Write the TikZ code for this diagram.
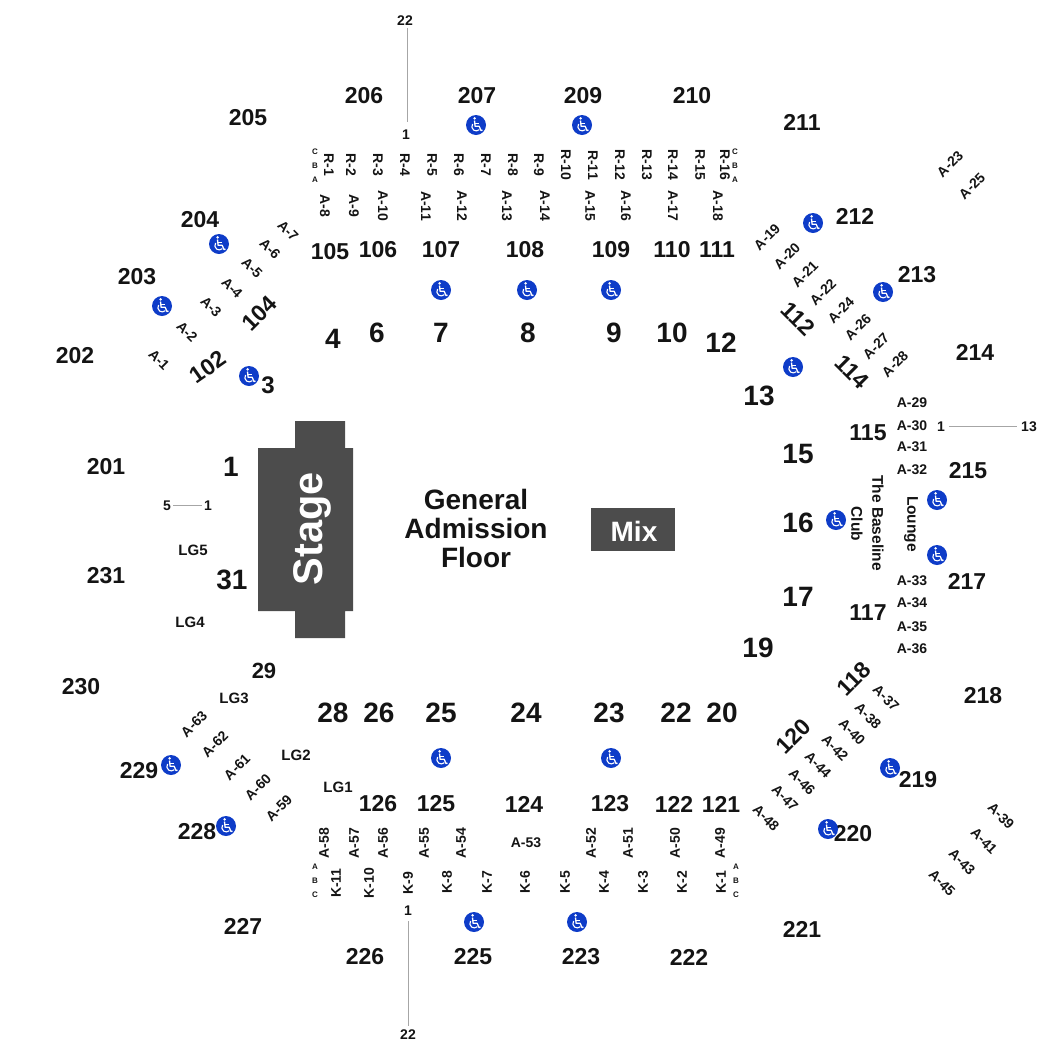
\documentclass[tikz,border=0pt]{standalone}
\usepackage{fontspec}
\setmainfont{Liberation Sans}
\definecolor{wcblue}{HTML}{0E3CC8}
\tikzset{
  base/.style={inner sep=0pt,font=\bfseries\fontsize{#1}{#1}\selectfont,text=black!92,anchor=center},
  sect/.style={base=23},
  bignum/.style={base=28},
  seat/.style={base=14},
  tiny/.style={base=8},
  lg/.style={base=15},
  conn/.style={draw=black!35,line width=0.8pt},
  dark/.style={fill=black!70,draw=none},
  wcdisc/.style={circle,fill=wcblue,minimum size=20pt,inner sep=0pt},
  pics/wc/.style={code={
    \fill[white] (-1.4,-6.6) circle (1.4);
    \draw[white,line width=1.3pt,line join=round] (-1.5,-4.5) -- (-0.9,1.3) -- (3.2,1.3) -- (5,5.6) -- (6.4,5);
    \draw[white,line width=1.1pt] (-1.2,-1.9) -- (3,-1.9);
    \draw[white,line width=1.1pt] (-3.4,-1) arc[start angle=215,end angle=45,radius=4.4];
  }}
}
\begin{document}
\begin{tikzpicture}[x=1pt,y=-1pt]
\useasboundingbox (0,0) rectangle (1050,1050);
% stage
\path[dark] (295,421) -- (345,421) -- (345,448) -- (353,448) -- (353,611) -- (345,611) -- (345,638) -- (295,638) -- (295,611) -- (258,611) -- (258,448) -- (295,448) -- cycle;
\node[base=41.5,text=white,rotate=90] (stage) at (312,528.5) {Stage};
\node[dark,minimum width=84pt,minimum height=43pt,inner sep=0pt] (mixbox) at (633,529.5) {};
\node[base=28,text=white] (mix) at (634,531) {Mix};
\node[base=28,align=center] (floor) at (476,528.5) {General\\[1pt]Admission\\[1pt]Floor};
% sections
\foreach \x/\y/\t in {364/96/206,477/96/207,583/96/209,692/96/210,248/118/205,802/122/211,200/220/204,855/216/212,917/275/213,137/277/203,75/356/202,975/352/214,106/467/201,968/471/215,106/576/231,967/581/217,81/687/230,983/696/218,139/771/229,918/780/219,197/832/228,853/834/220,243/926/227,802/929/221,365/957/226,473/957/225,581/957/223,689/957/222,330/252/105,378/250/106,441/250/107,525/250/108,611/250/109,672/250/110,717/250/111,868/433/115,868/613/117,378/804/126,436/804/125,524/804/124,610/804/123,674/804/122,721/804/121}
  \node[sect] (s\t) at (\x,\y) {\t};
\foreach \x/\y/\r/\t in {259/313/45/104,208/367/35/102,798/319/-45/112,852/372/-45/114,854/679/45/118,793/736/45/120}
  \node[sect,rotate=\r] (s\t) at (\x,\y) {\t};
% floor numbers
\foreach \x/\y/\t in {333/339/4,377/333/6,441/333/7,528/333/8,614/333/9,672/333/10,721/343/12,759/396/13,798/454/15,798/523/16,798/597/17,758/648/19,231/467/1,232/580/31,333/713/28,379/713/26,441/713/25,526/713/24,609/713/23,676/713/22,722/713/20}
  \node[bignum] (n\t) at (\x,\y) {\t};
\node[base=24] (n3) at (268,385) {3};
\node[base=22] (n29) at (264,671) {29};
% seats vertical
\foreach \x/\y/\t in {325/206/A-8,354/206/A-9,383/206/A-10,426/206/A-11,462/206/A-12,507/206/A-13,545/206/A-14,590/206/A-15,626/206/A-16,673/206/A-17,718/206/A-18,329/165/R-1,351/165/R-2,378/165/R-3,405/165/R-4,432/165/R-5,459/165/R-6,486/165/R-7,513/165/R-8,539/165/R-9,566/165/R-10,593/165/R-11,620/165/R-12,647/165/R-13,673/165/R-14,700/165/R-15,725/165/R-16}
  \node[seat,rotate=-90] (\t) at (\x,\y) {\t};
\foreach \x/\y/\t in {324/843/A-58,354/843/A-57,383/843/A-56,424/843/A-55,461/843/A-54,591/843/A-52,628/843/A-51,675/843/A-50,720/843/A-49,336/883/K-11,369/883/K-10,408/883/K-9,447/882/K-8,487/882/K-7,525/882/K-6,565/882/K-5,604/882/K-4,643/882/K-3,682/882/K-2,721/882/K-1}
  \node[seat,rotate=90] (\t) at (\x,\y) {\t};
% seats diagonal
\foreach \x/\y/\t in {288/231/A-7,270/249/A-6,252/268/A-5,232/288/A-4,211/307/A-3,187/332/A-2,159/360/A-1,886/698/A-37,868/716/A-38,852/732/A-40,835/748/A-42,818/765/A-44,802/782/A-46,785/798/A-47,766/818/A-48,1001/816/A-39,984/841/A-41,962/862/A-43,942/883/A-45}
  \node[seat,rotate=-45] (\t) at (\x,\y) {\t};
\foreach \x/\y/\t in {767/237/A-19,787/256/A-20,805/274/A-21,823/292/A-22,841/310/A-24,858/327/A-26,876/346/A-27,895/364/A-28,950/164/A-23,972/186/A-25,194/724/A-63,215/744/A-62,237/767/A-61,258/787/A-60,279/808/A-59}
  \node[seat,rotate=45] (\t) at (\x,\y) {\t};
% seats horizontal
\foreach \x/\y/\t in {912/403/A-29,912/426/A-30,912/447/A-31,912/470/A-32,912/581/A-33,912/603/A-34,912/627/A-35,912/649/A-36,526/843/A-53}
  \node[seat] (\t) at (\x,\y) {\t};
% row letters
\foreach \x/\y/\t/\n in {315/152/C/lc,315/166/B/lb,315/180/A/la,735/152/C/rc,735/166/B/rb,735/180/A/ra,315/867/A/bla,315/881/B/blb,315/895/C/blc,736/867/A/bra,736/881/B/brb,736/895/C/brc}
  \node[tiny] (\n) at (\x,\y) {\t};
% club labels
\node[base=15.5,rotate=-90] (baseline) at (878,523) {The Baseline};
\node[base=15.5,rotate=-90] (club) at (857,524) {Club};
\node[base=15.5,rotate=-90] (lounge) at (911,524) {Lounge};
% LG
\foreach \x/\y/\t in {193/550/LG5,190/622/LG4,234/698/LG3,296/755/LG2,338/787/LG1}
  \node[lg] (\t) at (\x,\y) {\t};
% row number connectors
\node[seat] (top22) at (405,21) {22};
\node[seat] (top1) at (406,135) {1};
\draw[conn] ([xshift=2pt,yshift=-2pt]top22.south) -- ([xshift=1pt,yshift=8pt]top1.north);
\node[seat] (bot1) at (408,911) {1};
\node[seat] (bot22) at (408,1035) {22};
\draw[conn] ([yshift=-5pt]bot1.south) -- ([yshift=4pt]bot22.north);
\node[seat] (r1) at (941,427) {1};
\node[seat] (r13) at (1029,427) {13};
\draw[conn] ([xshift=4pt,yshift=0.5pt]r1.east) -- ([xshift=-4pt,yshift=0.5pt]r13.west);
\node[seat] (l5) at (167,506) {5};
\node[seat] (l1) at (208,506) {1};
\draw[conn] ([xshift=2pt,yshift=1pt]l5.east) -- ([xshift=-2pt,yshift=1pt]l1.west);
% wheelchair icons
\foreach \x/\y [count=\i] in {476/125,582/125,813/223,883/292,219/244,162/306,249/376,441/290,527/290,611/290,793/367,937/500,836/520,937/555,171/765,226/826,441/758,611/758,890/768,828/829,474/922,577/922}{
  \node[wcdisc] (wc\i) at (\x,\y) {};
  \pic at (wc\i) {wc};
}
\end{tikzpicture}
\end{document}
